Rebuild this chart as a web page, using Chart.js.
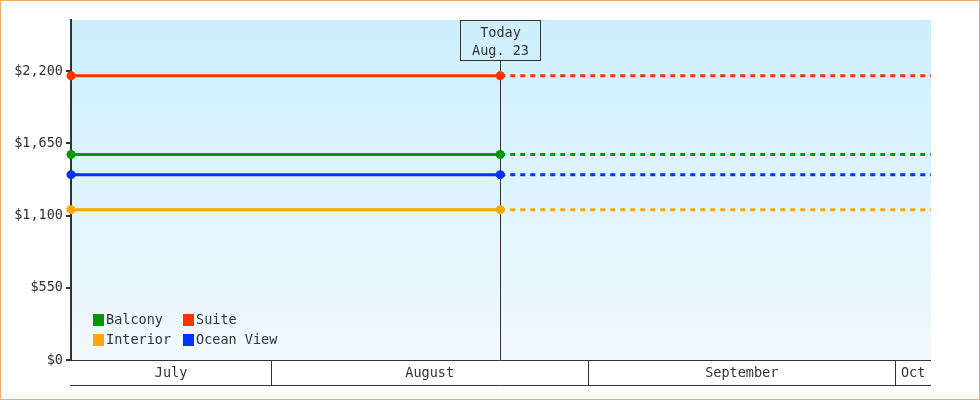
<!DOCTYPE html>
<html>
<head>
<meta charset="utf-8">
<script src="https://cdn.jsdelivr.net/npm/chart.js@4"></script>
<style>
  body { margin: 0; background: #fff; }
  #wrap { width: 978px; height: 398px; border: 1px solid #f0ab68; }
</style>
</head>
<body>
<div id="wrap"><canvas id="priceChart" width="978" height="398"></canvas></div>
<script>
// days counted from July 1 (July 1 = 0)
const days = [11.45, 53.4, 95.5];
const todayDay = 53.4;
const todayLines = ['Today', 'Aug. 23'];

const seriesNames = ['Balcony', 'Suite', 'Interior', 'Ocean View'];
const seriesColors = ['#009900', '#ff3300', '#ffa500', '#0033ff'];
const balcony = [1565, 1565, 1565];
const suite = [2165, 2165, 2165];
const interior = [1145, 1145, 1145];
const oceanView = [1412, 1412, 1412];

const yTicks = [0, 550, 1100, 1650, 2200];
const months = ['July', 'August', 'September', 'Oct'];
const monthStarts = [0, 31, 62, 92];
const monthEnds = [31, 62, 92, 123];

const FONT_FAMILY = '"DejaVu Sans Mono", monospace';
const FONT_SIZE = 13.5;
const FONT = FONT_SIZE + 'px ' + FONT_FAMILY;
const INK = '#333333';

const seriesValues = [balcony, suite, interior, oceanView];

const datasets = seriesNames.map((name, i) => ({
    label: name,
    data: days.map((d, j) => ({ x: d, y: seriesValues[i][j] })),
    borderColor: seriesColors[i],
    backgroundColor: seriesColors[i],
    borderWidth: 3,
    clip: false,
    pointRadius: ctx => (ctx.dataIndex < 2 ? 4.5 : 0),
    pointHoverRadius: 0,
    pointBorderWidth: 0,
    segment: {
        borderDash: ctx => (ctx.p0.parsed.x >= todayDay ? [5, 5] : undefined)
    }
}));

const backdrop = {
    id: 'backdrop',
    beforeDraw(chart) {
        const a = chart.chartArea;
        const ctx = chart.ctx;
        const g = ctx.createLinearGradient(0, a.top, 0, a.bottom);
        g.addColorStop(0, '#cceffc');
        g.addColorStop(1, '#f1f9fe');
        ctx.save();
        ctx.fillStyle = g;
        ctx.fillRect(a.left, a.top, a.right - a.left, a.bottom - a.top);
        ctx.restore();
    }
};

const todayMarker = {
    id: 'todayMarker',
    beforeDatasetsDraw(chart) {
        const a = chart.chartArea;
        const ctx = chart.ctx;
        const x = Math.round(chart.scales.x.getPixelForValue(todayDay)) + 0.5;
        ctx.save();
        ctx.strokeStyle = INK;
        ctx.lineWidth = 1;
        ctx.strokeRect(x - 40, a.top + 0.5, 80, 40);
        ctx.beginPath();
        ctx.moveTo(x, a.top + 40.5);
        ctx.lineTo(x, a.bottom);
        ctx.stroke();
        ctx.fillStyle = INK;
        ctx.font = FONT;
        ctx.textAlign = 'center';
        ctx.textBaseline = 'middle';
        ctx.fillText(todayLines[0], x, a.top + 13);
        ctx.fillText(todayLines[1], x, a.top + 31);
        ctx.restore();
    }
};

const monthBand = {
    id: 'monthBand',
    afterDraw(chart) {
        const a = chart.chartArea;
        const xs = chart.scales.x;
        const ctx = chart.ctx;
        const top = a.bottom + 0.5;
        const bottom = a.bottom + 25.5;
        ctx.save();
        ctx.strokeStyle = INK;
        ctx.lineWidth = 1;
        ctx.beginPath();
        ctx.moveTo(a.left - 1, top); ctx.lineTo(a.right, top);
        ctx.moveTo(a.left - 1, bottom); ctx.lineTo(a.right, bottom);
        ctx.stroke();
        ctx.fillStyle = INK;
        ctx.font = FONT;
        ctx.textAlign = 'center';
        ctx.textBaseline = 'middle';
        months.forEach((m, i) => {
            const l = Math.max(xs.getPixelForValue(monthStarts[i]), a.left);
            const r = Math.min(xs.getPixelForValue(monthEnds[i]), a.right);
            if (monthStarts[i] > xs.min) {
                const bx = Math.round(l) + 0.5;
                ctx.beginPath();
                ctx.moveTo(bx, top); ctx.lineTo(bx, bottom);
                ctx.stroke();
            }
            ctx.fillText(m, (l + r) / 2, a.bottom + 13);
        });
        ctx.restore();
    }
};

const insideLegend = {
    id: 'insideLegend',
    afterDatasetsDraw(chart) {
        const a = chart.chartArea;
        const ctx = chart.ctx;
        ctx.save();
        ctx.font = FONT;
        ctx.textBaseline = 'middle';
        ctx.textAlign = 'left';
        chart.data.datasets.forEach((ds, i) => {
            const x = a.left + 22 + (i % 2) * 90;
            const y = a.bottom - 46 + Math.floor(i / 2) * 20;
            ctx.fillStyle = ds.borderColor;
            ctx.fillRect(x, y, 11, 12);
            ctx.fillStyle = INK;
            ctx.fillText(ds.label, x + 13, y + 6);
        });
        ctx.restore();
    }
};

new Chart(document.getElementById('priceChart'), {
    type: 'line',
    data: { datasets: datasets },
    options: {
        responsive: false,
        animation: false,
        layout: { padding: { left: 10, top: 19, right: 48, bottom: 39 } },
        plugins: {
            legend: { display: false },
            tooltip: { enabled: false }
        },
        scales: {
            x: {
                type: 'linear',
                display: false,
                min: days[0],
                max: days[days.length - 1]
            },
            y: {
                min: 0,
                max: 2590,
                afterBuildTicks: scale => { scale.ticks = yTicks.map(v => ({ value: v })); },
                afterFit: scale => { scale.width = 60; },
                border: { display: true, color: INK, width: 2 },
                grid: {
                    drawOnChartArea: false,
                    drawTicks: true,
                    tickLength: 5,
                    tickColor: INK,
                    lineWidth: 2
                },
                ticks: {
                    color: INK,
                    font: { family: FONT_FAMILY, size: FONT_SIZE },
                    padding: 3,
                    callback: v => '$' + v.toLocaleString('en-US')
                }
            }
        }
    },
    plugins: [backdrop, todayMarker, monthBand, insideLegend]
});
</script>
</body>
</html>
